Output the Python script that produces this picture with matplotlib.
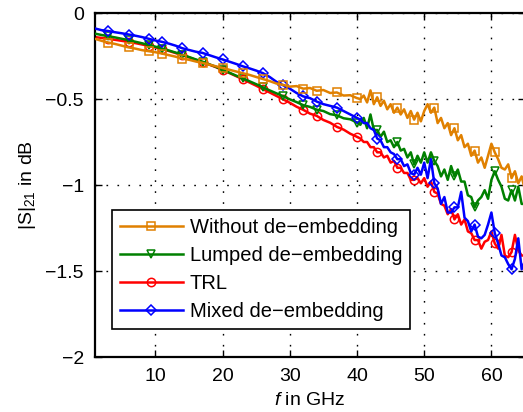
import numpy as np
import matplotlib
matplotlib.use("Agg")
import matplotlib.pyplot as plt

plt.rcParams['font.family'] = ['Liberation Sans', 'DejaVu Sans']
plt.rcParams['mathtext.fontset'] = 'custom'
plt.rcParams['mathtext.rm'] = 'Liberation Sans'
plt.rcParams['mathtext.it'] = 'Liberation Sans:italic'

# frequency grid in GHz (1 GHz steps up to 40, 0.5 GHz above)
freq = np.concatenate([np.arange(1, 41, 1.0), np.arange(40.5, 65.01, 0.5)])

without = [-0.150, -0.162, -0.172, -0.180, -0.190, -0.200, -0.207, -0.216, -0.222, -0.228,
           -0.236, -0.245, -0.254, -0.265, -0.272, -0.282, -0.290, -0.300, -0.310, -0.320,
           -0.330, -0.340, -0.350, -0.360, -0.372, -0.384, -0.396, -0.410, -0.418, -0.428,
           -0.425, -0.440, -0.436, -0.452, -0.448, -0.465, -0.462, -0.480, -0.478, -0.495,
           -0.50, -0.48, -0.52, -0.45, -0.53, -0.49, -0.54, -0.51, -0.56, -0.53,
           -0.58, -0.55, -0.59, -0.56, -0.61, -0.57, -0.62, -0.58, -0.63, -0.57,
           -0.53, -0.58, -0.55, -0.64, -0.61, -0.67, -0.64, -0.71, -0.67, -0.74,
           -0.71, -0.78, -0.76, -0.83, -0.80, -0.87, -0.84, -0.90, -0.83, -0.76,
           -0.81, -0.85, -0.90, -0.91, -0.88, -0.96, -0.92, -0.99, -0.95, -1.03]

lumped = [-0.120, -0.128, -0.135, -0.142, -0.150, -0.158, -0.167, -0.176, -0.186, -0.196,
          -0.207, -0.218, -0.230, -0.243, -0.256, -0.270, -0.283, -0.298, -0.313, -0.330,
          -0.347, -0.364, -0.380, -0.397, -0.414, -0.432, -0.450, -0.467, -0.484, -0.502,
          -0.518, -0.536, -0.546, -0.562, -0.570, -0.588, -0.595, -0.612, -0.618, -0.637,
          -0.65, -0.61, -0.67, -0.59, -0.68, -0.68, -0.72, -0.69, -0.75, -0.74,
          -0.78, -0.75, -0.80, -0.79, -0.84, -0.81, -0.88, -0.83, -0.87, -0.81,
          -0.87, -0.81, -0.86, -0.89, -0.95, -0.91, -0.97, -0.89, -0.95, -0.91,
          -0.98, -0.98, -1.06, -1.07, -1.13, -1.09, -1.07, -1.03, -1.08, -0.97,
          -0.92, -0.97, -1.01, -1.08, -1.09, -1.03, -1.09, -1.01, -1.11, -1.11]

trl = [-0.140, -0.145, -0.150, -0.156, -0.162, -0.168, -0.175, -0.183, -0.191, -0.200,
       -0.210, -0.221, -0.233, -0.245, -0.258, -0.272, -0.286, -0.300, -0.315, -0.332,
       -0.349, -0.367, -0.385, -0.404, -0.423, -0.443, -0.462, -0.482, -0.502, -0.522,
       -0.545, -0.563, -0.585, -0.598, -0.622, -0.638, -0.662, -0.678, -0.702, -0.720,
       -0.73, -0.75, -0.75, -0.78, -0.78, -0.81, -0.81, -0.84, -0.83, -0.87,
       -0.86, -0.90, -0.90, -0.93, -0.93, -0.97, -0.97, -0.96, -0.99, -0.96,
       -1.01, -0.98, -1.04, -1.05, -1.11, -1.12, -1.17, -1.14, -1.20, -1.17,
       -1.23, -1.20, -1.27, -1.28, -1.32, -1.32, -1.37, -1.33, -1.32, -1.27,
       -1.34, -1.37, -1.29, -1.41, -1.42, -1.39, -1.29, -1.38, -1.41, -1.41]

mixed = [-0.090, -0.100, -0.105, -0.112, -0.118, -0.125, -0.132, -0.140, -0.150, -0.160,
         -0.168, -0.178, -0.190, -0.205, -0.215, -0.225, -0.232, -0.245, -0.258, -0.270,
         -0.283, -0.296, -0.310, -0.322, -0.335, -0.350, -0.372, -0.400, -0.420, -0.440,
         -0.465, -0.485, -0.495, -0.515, -0.530, -0.540, -0.550, -0.570, -0.590, -0.610,
         -0.62, -0.64, -0.64, -0.67, -0.68, -0.73, -0.74, -0.78, -0.78, -0.81,
         -0.82, -0.85, -0.85, -0.89, -0.88, -0.93, -0.94, -0.90, -0.94, -0.87,
         -0.96, -0.85, -0.99, -1.02, -1.11, -1.07, -1.16, -1.16, -1.13, -1.13,
         -1.04, -1.19, -1.21, -1.27, -1.23, -1.30, -1.31, -1.29, -1.23, -1.16,
         -1.28, -1.34, -1.41, -1.42, -1.46, -1.49, -1.43, -1.31, -1.49, -1.44]

labels = ['Without de\u2212embedding', 'Lumped de\u2212embedding', 'TRL', 'Mixed de\u2212embedding']
colors = ['#E08000', '#008000', '#FF0000', '#0000FF']
markers = ['s', 'v', 'o', 'D']
marker_f = [3, 6, 9, 11, 14, 17, 20, 23, 26, 29, 32, 34, 37, 40, 43, 46, 48.5, 51.5, 54.5, 57.5, 60.5, 63]
mark_idx = [int(np.argmin(np.abs(freq - m))) for m in marker_f]

xticks = [10, 20, 30, 40, 50, 60]
yticks = [0, -0.5, -1, -1.5, -2]
ytick_labels = ['0', '\u22120.5', '\u22121', '\u22121.5', '\u22122']

fig = plt.figure(figsize=(5.23, 4.12), dpi=100)
ax = fig.add_axes([95 / 523, 55 / 412, 430 / 523, 344 / 412])

series = [without, lumped, trl, mixed]
zorders = [5, 3, 2, 4]
handles = []
for vals, lab, col, mk, zo in zip(series, labels, colors, markers, zorders):
    ms = 5 if mk == 'D' else 6
    h, = ax.plot(freq, vals, color=col, linewidth=1.8, marker=mk, markersize=ms,
                 markerfacecolor='none', markeredgewidth=1.1, markevery=mark_idx,
                 label=lab, zorder=zo)
    handles.append(h)

ax.set_xlim(1, 65)
ax.set_ylim(-2, 0)
ax.set_xticks(xticks)
ax.set_yticks(yticks)
ax.set_yticklabels(ytick_labels)
ax.tick_params(direction='in', length=5, width=1, labelsize=14, top=True, right=True, pad=8)
ax.grid(True, color='black', linestyle=(0, (1.2, 6.7)), linewidth=1.0)
for s in ax.spines.values():
    s.set_linewidth(1.6)
ax.spines['right'].set_visible(False)

ax.set_xlabel('$f$ in GHz', fontsize=14, labelpad=5)
ax.set_ylabel(r'$\mathrm{|S|}_{21}$ in dB', fontsize=14, labelpad=5)

leg = ax.legend(handles=handles, loc='lower left', bbox_to_anchor=(0.04, 0.081),
                fontsize=14.5, handlelength=3.1, handletextpad=0.35, labelspacing=0.45,
                borderpad=0.4, borderaxespad=0, fancybox=False, framealpha=1,
                edgecolor='black')
leg.get_frame().set_linewidth(1.2)
leg.set_zorder(10)

fig.savefig('out.png', dpi=100)
